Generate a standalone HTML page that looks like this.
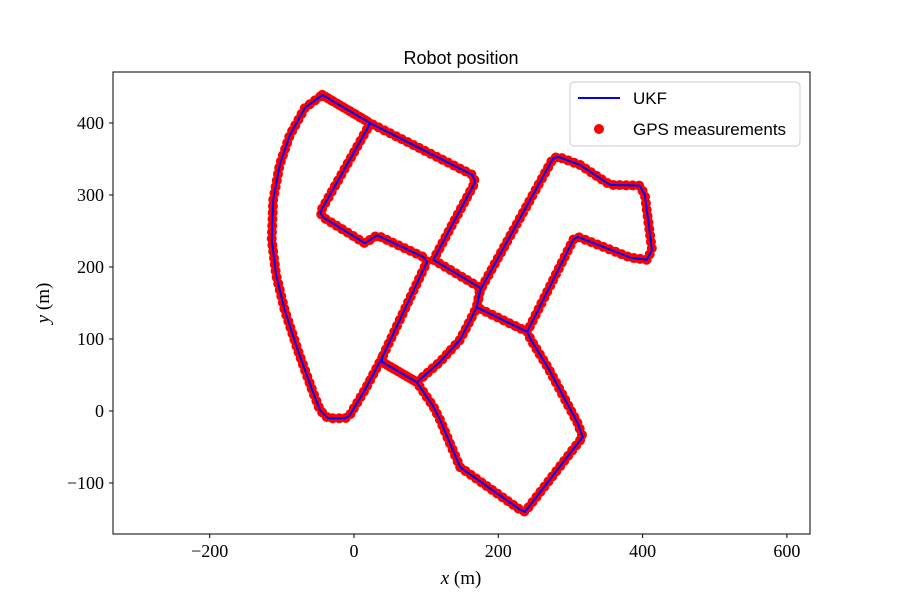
<!DOCTYPE html>
<html><head><meta charset="utf-8"><style>
body{margin:0;background:#fff}
svg text{font-family:"Liberation Serif",serif}
</style></head><body>
<svg id="chart" width="900" height="600" xmlns="http://www.w3.org/2000/svg">
<rect width="900" height="600" fill="#fff"/>
<text x="461" y="64" text-anchor="middle" font-size="18" style="font-family:'Liberation Sans',sans-serif">Robot position</text>
<defs><clipPath id="pa"><rect x="113" y="72" width="697" height="462"/></clipPath></defs>
<g id="series" clip-path="url(#pa)"></g>
<rect x="113" y="72" width="697" height="462" fill="none" stroke="#000" stroke-width="1"/>
<g id="axes"></g>
<text x="461" y="584" text-anchor="middle" font-size="19"><tspan font-style="italic">x</tspan> (m)</text>
<text transform="translate(49,303) rotate(-90)" text-anchor="middle" font-size="19"><tspan font-style="italic">y</tspan> (m)</text>
<g>
<rect x="570" y="82" width="230" height="64" rx="4" fill="#fff" stroke="#ccc"/>
<line x1="578" y1="98" x2="620" y2="98" stroke="#0000ff" stroke-width="2"/>
<text x="633" y="104" font-size="17" style="font-family:'Liberation Sans',sans-serif">UKF</text>
<circle cx="599" cy="129" r="5" fill="#ff0000"/>
<text x="633" y="135" font-size="17" style="font-family:'Liberation Sans',sans-serif">GPS measurements</text>
</g>
</svg>
<script>
const xTicks=[-200,0,200,400,600];
const yTicks=[-100,0,100,200,300,400];
const ukfX=[-44,22,164,168,110,175,170,240,245,269,310,317,237,230,147,119,110,87,39,39,101,96,32,15,-43,-47,19,22,-44,-68,-89,-103,-112,-114,-108,-96,-78,-58,-47,-36,-12,-6,15,39,39,87,119,147,161,170,175,276,283,313,355,396,403,413,406,383,310,304,240];
const ukfY=[439,400,328,318,210,171,144,110,99,60,-17,-36,-140,-137,-78,-12,6,40,68,74,207,214,244,233,269,276,393,400,439,421,383,342,293,238,189,140,85,29,1,-10,-10,-6,29,74,68,40,68,99,126,144,168,351,353,342,314,313,300,224,210,213,242,238,110];
const gpsX=ukfX.slice();
const gpsY=ukfY.slice();
const sx=v=>354+v*0.7215;
const sy=v=>411-v*0.72;
const NS="http://www.w3.org/2000/svg";
const axes=document.getElementById('axes');
const series=document.getElementById('series');
xTicks.forEach(t=>{
  const l=document.createElementNS(NS,'line');
  
  
  l.setAttribute('x1',sx(t));l.setAttribute('x2',sx(t));l.setAttribute('y1',534);l.setAttribute('y2',538);l.setAttribute('stroke','#000');
  axes.appendChild(l);
  const tx=document.createElementNS(NS,'text');
  
  
  tx.setAttribute('x',sx(t));tx.setAttribute('y',557);tx.setAttribute('text-anchor','middle');tx.setAttribute('font-size','18');
  tx.textContent=t<0?'\u2212'+(-t):String(t);
  axes.appendChild(tx);
});
yTicks.forEach(t=>{
  const l=document.createElementNS(NS,'line');
  
  
  l.setAttribute('x1',109);l.setAttribute('x2',113);l.setAttribute('y1',sy(t));l.setAttribute('y2',sy(t));l.setAttribute('stroke','#000');
  axes.appendChild(l);
  const tx=document.createElementNS(NS,'text');
  
  
  tx.setAttribute('x',104);tx.setAttribute('y',sy(t)+6);tx.setAttribute('text-anchor','end');tx.setAttribute('font-size','18');
  tx.textContent=t<0?'\u2212'+(-t):String(t);
  axes.appendChild(tx);
});
function pts(xs,ys){return xs.map((x,i)=>sx(x).toFixed(1)+','+sy(ys[i]).toFixed(1)).join(' ');}
const g=document.createElementNS(NS,'polyline');


g.setAttribute('points',pts(gpsX,gpsY));
g.setAttribute('fill','none');g.setAttribute('stroke','#ff0000');g.setAttribute('stroke-width','10');
g.setAttribute('stroke-linecap','round');g.setAttribute('stroke-linejoin','round');g.setAttribute('stroke-dasharray','0 6.5');
series.appendChild(g);
const u=document.createElementNS(NS,'polyline');


u.setAttribute('points',pts(ukfX,ukfY));
u.setAttribute('fill','none');u.setAttribute('stroke','#0000ff');u.setAttribute('stroke-width','2');u.setAttribute('stroke-linejoin','round');
series.appendChild(u);
</script>
</body></html>
